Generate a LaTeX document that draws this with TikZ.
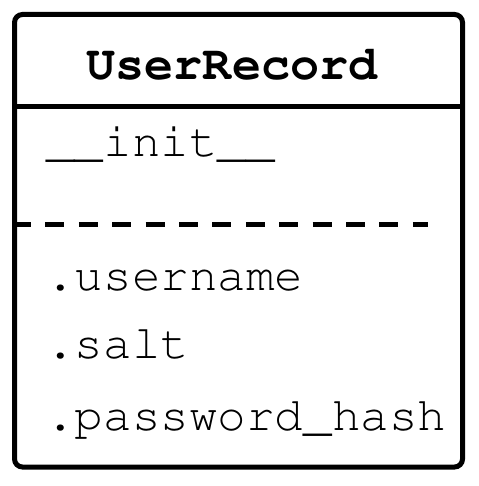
\documentclass[tikz,border=0pt]{standalone}
\usepackage[T1]{fontenc}
\renewcommand{\ttdefault}{pcr}
\usepackage{tikz}

\tikzset{
  member/.style={anchor=base west, inner sep=0pt,
    font=\ttfamily\fontsize{23.8}{28}\selectfont},
  classname/.style={anchor=base, inner sep=0pt,
    font=\ttfamily\bfseries\fontsize{24.2}{28}\selectfont}
}

\begin{document}
\begin{tikzpicture}[x=0.5pt,y=-0.5pt]
\useasboundingbox (0,0) rectangle (478,486);
% class box
\node[draw, line width=2.5pt, rounded corners=4pt, inner sep=0pt,
  minimum width=224pt, minimum height=226.25pt] (frame) at (238.5,240.75) {};
\coordinate (headsep) at (0,106.5);
\coordinate (dashend) at (428,224.5);
\draw[line width=2.5pt] (frame.west |- headsep) -- (frame.east |- headsep);
\draw[line width=2.5pt, dash pattern=on 9.5pt off 7.2pt] (frame.west |- dashend) -- (dashend);
% texts
\node[classname] (title) at (232,80) {UserRecord};
\node[member] (init) at (46,157) {\_\_init\_\_};
\node[member] (username) at (46,290) {.username};
\node[member] (salt) at (46,358) {.salt};
\node[member] (pwhash) at (46,430) {.password\_hash};
\end{tikzpicture}
\end{document}
